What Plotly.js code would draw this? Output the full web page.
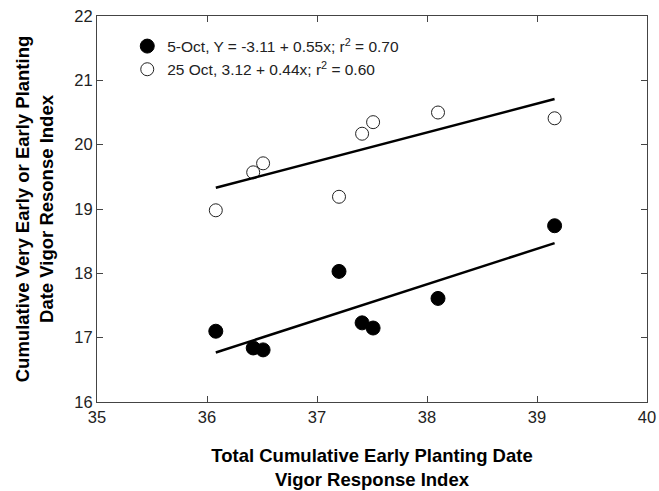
<!DOCTYPE html>
<html>
<head>
<meta charset="utf-8">
<script src="https://cdn.plot.ly/plotly-3.0.1.min.js"></script>
<style>html,body{margin:0;padding:0;background:#fff;}#chart{width:659px;height:491px;}</style>
</head>
<body>
<div id="chart"></div>
<script>
// Data
var vigorX = [36.08, 36.42, 36.51, 37.20, 37.41, 37.51, 38.10, 39.16];
var oct5Y  = [17.10, 16.84, 16.81, 18.03, 17.23, 17.15, 17.61, 18.74];
var oct25Y = [18.98, 19.57, 19.71, 19.19, 20.17, 20.35, 20.50, 20.41];
// Regression line end points (as drawn)
var fitX      = [36.08, 39.16];
var oct5Fit   = [16.77, 18.47];
var oct25Fit  = [19.33, 20.71];
var oct5Name  = '5-Oct, Y = -3.11 + 0.55x; r<sup>2</sup> = 0.70';
var oct25Name = '25 Oct, 3.12 + 0.44x; r<sup>2</sup> = 0.60';
var xTicks = [35, 36, 37, 38, 39, 40];
var yTicks = [16, 17, 18, 19, 20, 21, 22];

var font = 'Arial, "Liberation Sans", sans-serif';
var traces = [
  {x: vigorX, y: oct5Y, mode: 'markers', type: 'scatter', name: oct5Name,
   marker: {symbol: 'circle', size: 14, color: '#000', line: {color: '#000', width: 1}}},
  {x: vigorX, y: oct25Y, mode: 'markers', type: 'scatter', name: oct25Name,
   marker: {symbol: 'circle', size: 13, color: '#fff', line: {color: '#222', width: 1}}},
  {x: fitX, y: oct5Fit, mode: 'lines', type: 'scatter', showlegend: false,
   line: {color: '#000', width: 2.5}},
  {x: fitX, y: oct25Fit, mode: 'lines', type: 'scatter', showlegend: false,
   line: {color: '#000', width: 2.5}}
];
var layout = {
  width: 659, height: 491,
  margin: {l: 97, r: 12, t: 16, b: 89},
  paper_bgcolor: '#fff', plot_bgcolor: '#fff',
  font: {family: font, color: '#222'},
  showlegend: true,
  legend: {x: 0.055, y: 0.965, xanchor: 'left', yanchor: 'top', bgcolor: 'rgba(0,0,0,0)',
           font: {size: 15.5, family: font, color: '#222'}, tracegroupgap: 0, itemsizing: 'trace'},
  xaxis: {
    range: [35, 40], tickvals: xTicks, ticktext: xTicks.map(String),
    ticks: 'inside', ticklen: 6, tickcolor: '#444', tickwidth: 1,
    showline: true, linecolor: '#444', linewidth: 1, mirror: 'ticks',
    showgrid: false, zeroline: false,
    tickfont: {size: 16.5, family: font, color: '#222'},
    title: {text: '<b>Total Cumulative Early Planting Date<br>Vigor Response Index</b>',
            font: {size: 18.5, family: font, color: '#000'}, standoff: 24}
  },
  yaxis: {
    range: [16, 22], tickvals: yTicks, ticktext: yTicks.map(String),
    ticks: 'inside', ticklen: 6, tickcolor: '#444', tickwidth: 1,
    showline: true, linecolor: '#444', linewidth: 1, mirror: 'ticks',
    showgrid: false, zeroline: false,
    tickfont: {size: 16.5, family: font, color: '#222'},
    title: {text: '<b>Cumulative Very Early or Early Planting<br>Date Vigor Resonse Index</b>',
            font: {size: 18.5, family: font, color: '#000'}, standoff: 15}
  }
};
Plotly.newPlot('chart', traces, layout, {displayModeBar: false, staticPlot: true});
</script>
</body>
</html>
